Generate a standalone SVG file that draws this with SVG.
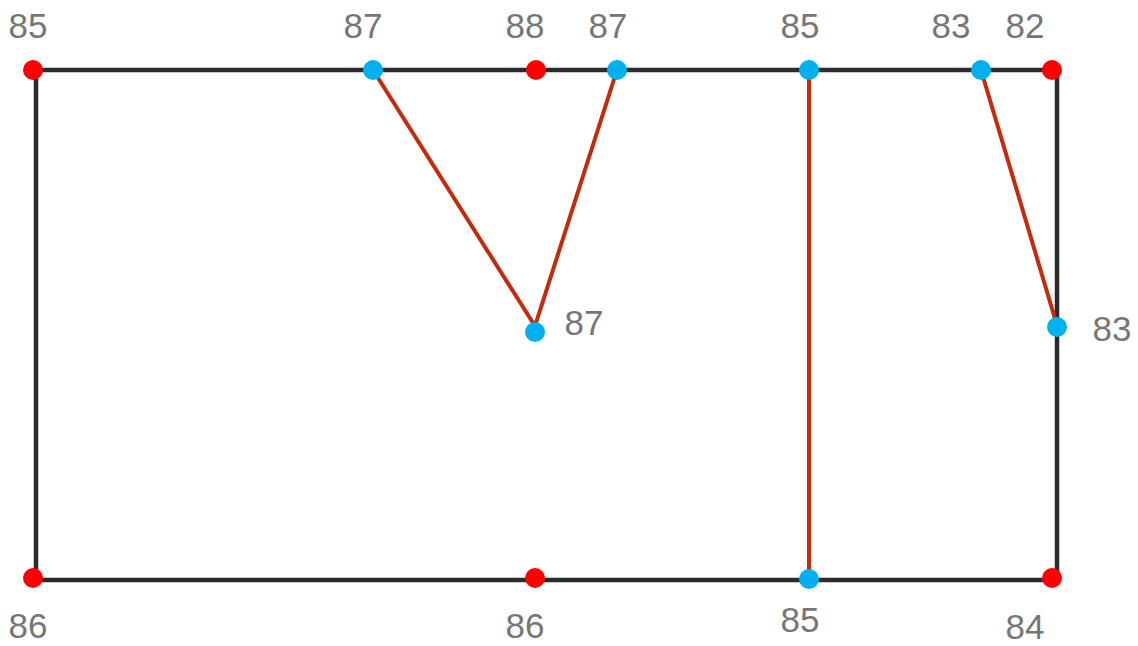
<svg xmlns="http://www.w3.org/2000/svg" width="1138" height="646" viewBox="0 0 1138 646">
<style>
.frame{fill:none;stroke:#2b2b2b;stroke-width:4.5;stroke-linejoin:miter}
.cut{fill:none;stroke:#c42a0c;stroke-width:4;stroke-linecap:round;stroke-linejoin:round}
.r{fill:#ff0000}
.b{fill:#00b0ef}
text{font-family:"Liberation Sans",Arial,sans-serif;font-size:35px;fill:#767676;text-anchor:middle}
</style>
<rect width="1138" height="646" fill="#ffffff"/>
<g id="connectors">
<path class="frame" d="M36,70 H1057 V580 H36 Z"/>
<path class="cut" d="M373,70 L535,326 L617,70"/>
<path class="cut" d="M809,70 V578"/>
<path class="cut" d="M981,70 L1056,322"/>
</g>
<g id="n1"><circle class="r" cx="33" cy="70" r="10"/><text x="28" y="38">85</text></g>
<g id="n2"><circle class="b" cx="373" cy="70" r="10"/><text x="363" y="38">87</text></g>
<g id="n3"><circle class="r" cx="536" cy="70" r="10"/><text x="525" y="38">88</text></g>
<g id="n4"><circle class="b" cx="617" cy="70" r="10"/><text x="608" y="38">87</text></g>
<g id="n5"><circle class="b" cx="809" cy="70" r="10"/><text x="800" y="38">85</text></g>
<g id="n6"><circle class="b" cx="981" cy="70" r="10"/><text x="951" y="38">83</text></g>
<g id="n7"><circle class="r" cx="1052" cy="70" r="10"/><text x="1025" y="38">82</text></g>
<g id="n8"><circle class="b" cx="535" cy="332" r="10"/><text x="584" y="335">87</text></g>
<g id="n9"><circle class="b" cx="1057" cy="327" r="10"/><text x="1112" y="341">83</text></g>
<g id="n10"><circle class="r" cx="33" cy="578" r="10"/><text x="28" y="638">86</text></g>
<g id="n11"><circle class="r" cx="535" cy="578" r="10"/><text x="525" y="638">86</text></g>
<g id="n12"><circle class="b" cx="809" cy="579" r="10"/><text x="800" y="632">85</text></g>
<g id="n13"><circle class="r" cx="1052" cy="578" r="10"/><text x="1025" y="639">84</text></g>
</svg>
